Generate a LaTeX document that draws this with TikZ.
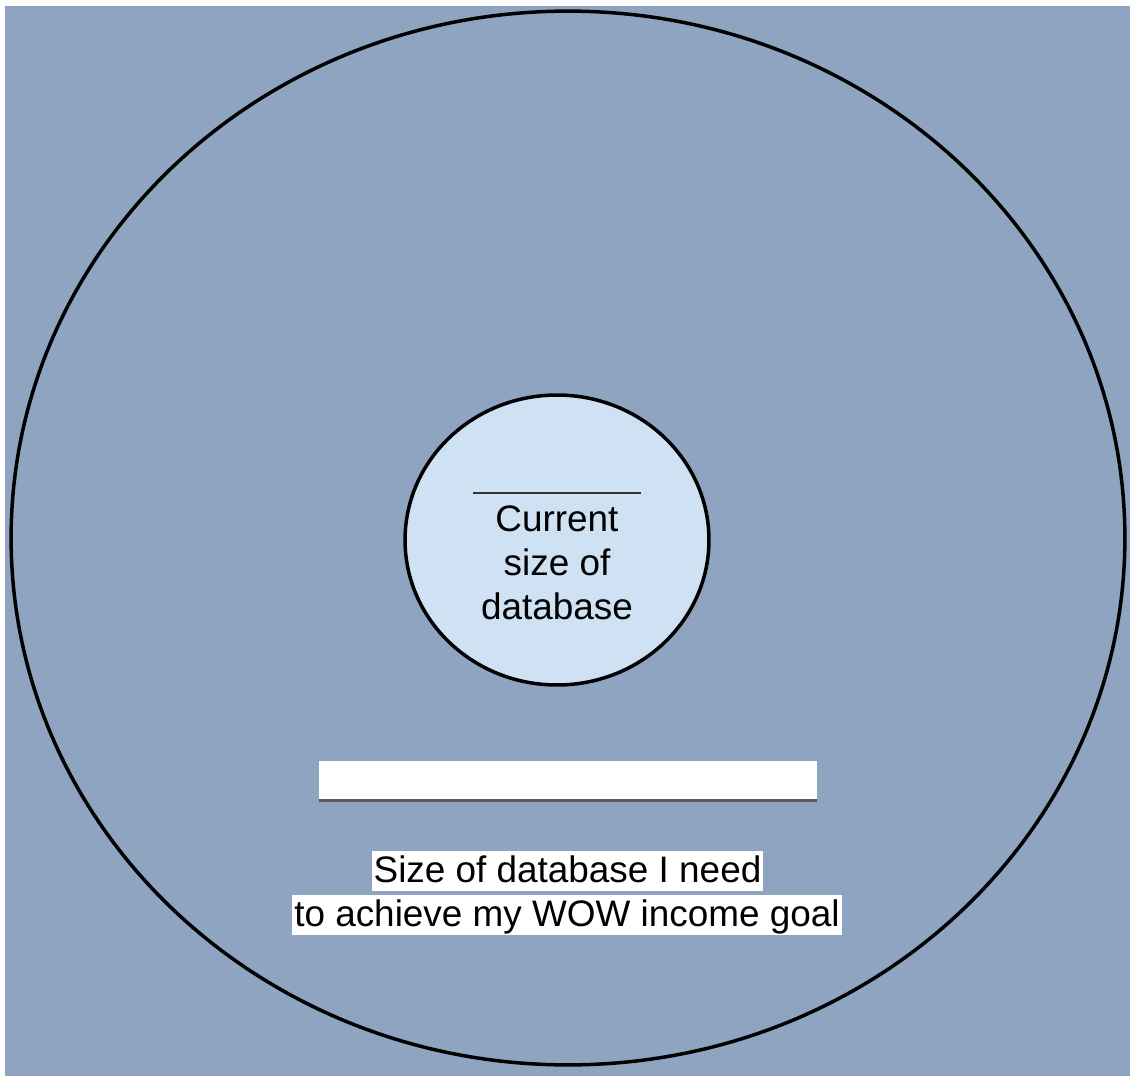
\documentclass[tikz,border=0pt]{standalone}
\usepackage{fontspec}
\setmainfont{Liberation Sans}
\usetikzlibrary{shapes.geometric}
\definecolor{slateback}{HTML}{8EA4C1}
\definecolor{paleblue}{HTML}{CFE2F3}
\definecolor{rulegray}{HTML}{595959}
\definecolor{inkgray}{HTML}{333333}
\tikzset{ring/.style = {draw=black, line width=0.07cm, ellipse, inner sep=0}}
\tikzset{boxtext/.style = {fill=white, inner xsep=0.04cm, inner ysep=0, text height=0.62cm, text depth=0.18cm, anchor=base, font=\fontsize{21}{25}\selectfont}}

\begin{document}
\begin{tikzpicture}[x=0.02cm, y=-0.02cm]
    \useasboundingbox (0, 0) rectangle (1130, 1076);
    \fill [slateback] (5, 6) rectangle (1130, 1076);

    \node [ring, minimum width=22.28cm, minimum height=21.08cm] (goal) at (568, 538) {};
    \node [ring, fill=paleblue, minimum width=6.08cm, minimum height=5.8cm] (cur) at (557, 540) {};

    \draw [inkgray, line width=0.045cm] (473, 493) -- (641, 493);
    \node [inner sep=0, align=center, font=\fontsize{21}{25}\selectfont] (curtxt) at (557, 562.5) {Current\\size of\\database};

    \node [fill=white, inner sep=0, minimum width=9.96cm, minimum height=0.78cm] (blank) at (568, 780.5) {};
    \draw [rulegray, line width=0.06cm] (blank.south west) -- (blank.south east);

    \node [boxtext] (need1) at (567.5, 882) {Size of database I need};
    \node [boxtext] (need2) at (567, 926) {to achieve my WOW income goal};
\end{tikzpicture}
\end{document}
